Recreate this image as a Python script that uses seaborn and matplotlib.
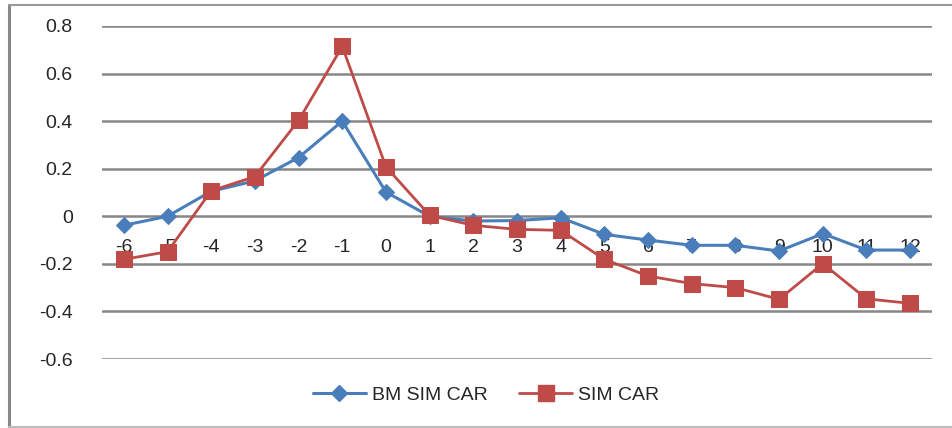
import pandas as pd
import seaborn as sns
import matplotlib.pyplot as plt
from matplotlib.lines import Line2D

# event days and the two CAR series
days = list(range(-6, 13))
bm_sim_car = [-0.038, 0.0, 0.105, 0.149, 0.247, 0.400, 0.102, 0.0, -0.020, -0.018,
              -0.006, -0.076, -0.100, -0.122, -0.122, -0.146, -0.073, -0.142, -0.142]
sim_car = [-0.181, -0.149, 0.107, 0.167, 0.403, 0.714, 0.208, 0.004, -0.038, -0.055,
           -0.059, -0.181, -0.251, -0.283, -0.300, -0.349, -0.199, -0.347, -0.366]
y_ticks = [-0.6, -0.4, -0.2, 0, 0.2, 0.4, 0.6, 0.8]
y_labels = ["-0.6", "-0.4", "-0.2", "0", "0.2", "0.4", "0.6", "0.8"]

df = pd.DataFrame({"day": days, "BM SIM CAR": bm_sim_car, "SIM CAR": sim_car})

sns.set_style("white")
plt.rcParams['font.family'] = ['Liberation Sans', 'DejaVu Sans']

fig = plt.figure(figsize=(9.52, 4.28), dpi=100)
ax = fig.add_axes([102 / 952, 1 - 359 / 428, 830 / 952, 333 / 428])

blue = "#4A7EBB"
red = "#BE4B48"
fs = 14

for y in y_ticks:
    ax.axhline(y, color="#878787", lw=1.8, zorder=0)

sns.lineplot(data=df, x="day", y="BM SIM CAR", ax=ax, color=blue, lw=2.2,
             marker="D", markersize=8.5, markeredgecolor=blue, zorder=3)
sns.lineplot(data=df, x="day", y="SIM CAR", ax=ax, color=red, lw=2,
             marker="s", markersize=11, markeredgecolor=red, zorder=4)

ax.set_xlim(-6.5, 12.5)
ax.set_ylim(-0.6, 0.8)
ax.set_yticks(y_ticks)
ax.set_yticklabels(y_labels)
ax.set_xticks(days)
ax.set_xticklabels([str(d) for d in days])
ax.spines['bottom'].set_position(('data', 0))
for s in ax.spines.values():
    s.set_visible(False)
ax.tick_params(axis="x", length=0, pad=16, labelsize=fs)
ax.tick_params(axis="y", length=0, pad=21, labelsize=fs)
ax.set_xlabel("")
ax.set_ylabel("")
ax.grid(False)
if ax.get_legend():
    ax.get_legend().remove()

handles = [
    Line2D([], [], color=blue, lw=2.2, marker="D", markersize=8.5, label="BM SIM CAR"),
    Line2D([], [], color=red, lw=2, marker="s", markersize=11, label="SIM CAR"),
]
fig.legend(handles=handles, loc="center", bbox_to_anchor=(486 / 952, 1 - 395 / 428),
           ncol=2, frameon=False, fontsize=fs, handlelength=2.7,
           columnspacing=1.65, handletextpad=0.3)

# outer chart frame
fig.add_artist(Line2D([8.5 / 952, 8.5 / 952], [0, 1 - 5 / 428], transform=fig.transFigure,
                      color="#888888", lw=2.2))
fig.add_artist(Line2D([8.5 / 952, 1], [1 - 5 / 428, 1 - 5 / 428], transform=fig.transFigure,
                      color="#999999", lw=1.5))
fig.add_artist(Line2D([8.5 / 952, 1], [1 / 428, 1 / 428], transform=fig.transFigure,
                      color="#bbbbbb", lw=1.5))

fig.savefig("out.png", dpi=100)
